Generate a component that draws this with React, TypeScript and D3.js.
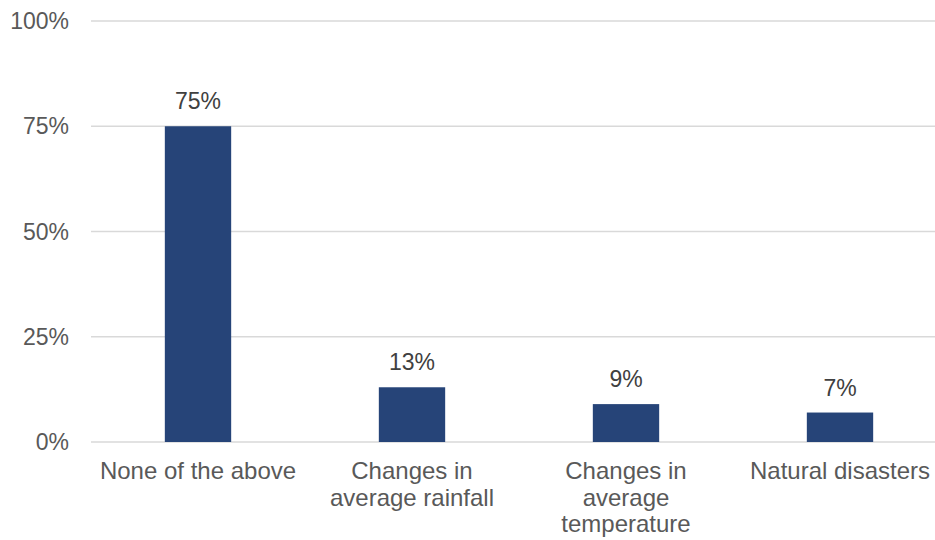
import React, { useEffect, useRef } from "react";
import * as d3 from "d3";

const categories = [
  "None of the above",
  "Changes in average rainfall",
  "Changes in average temperature",
  "Natural disasters",
];
const values = [75, 13, 9, 7];
const yTicks = [0, 25, 50, 75, 100];

const W = 935;
const H = 540;
const FONT = "Liberation Sans, Arial, sans-serif";

export default function App() {
  const ref = useRef<SVGSVGElement>(null);

  useEffect(() => {
    const svg = d3.select(ref.current);
    svg.selectAll("*").remove();

    const x = d3
      .scaleBand<string>()
      .domain(categories)
      .range([91, 947])
      .paddingInner(0.69)
      .paddingOuter(0.345);
    const y = d3.scaleLinear().domain([0, 100]).range([442, 21]);

    // gridlines
    svg
      .append("g")
      .selectAll("line")
      .data(yTicks)
      .join("line")
      .attr("x1", 91)
      .attr("x2", 947)
      .attr("y1", (d) => y(d))
      .attr("y2", (d) => y(d))
      .attr("stroke", "#d9d9d9")
      .attr("stroke-width", 1.5);

    // y tick labels
    svg
      .append("g")
      .selectAll("text")
      .data(yTicks)
      .join("text")
      .attr("x", 69)
      .attr("y", (d) => y(d))
      .attr("dy", "0.35em")
      .attr("text-anchor", "end")
      .attr("font-family", FONT)
      .attr("font-size", 23)
      .attr("fill", "#595959")
      .text((d) => `${d}%`);

    // bars
    svg
      .append("g")
      .selectAll("rect")
      .data(values)
      .join("rect")
      .attr("x", (_, i) => x(categories[i])!)
      .attr("width", x.bandwidth())
      .attr("y", (d) => y(d))
      .attr("height", (d) => y(0) - y(d))
      .attr("fill", "#264478");

    // value labels
    svg
      .append("g")
      .selectAll("text")
      .data(values)
      .join("text")
      .attr("x", (_, i) => x(categories[i])! + x.bandwidth() / 2)
      .attr("y", (d) => y(d) - 17)
      .attr("text-anchor", "middle")
      .attr("font-family", FONT)
      .attr("font-size", 23)
      .attr("fill", "#404040")
      .text((d) => `${d}%`);

    // category labels, word-wrapped to the band step
    const maxW = 200;
    const g = svg.append("g");
    categories.forEach((c) => {
      const cx = x(c)! + x.bandwidth() / 2;
      const t = g
        .append("text")
        .attr("x", cx)
        .attr("y", 479)
        .attr("text-anchor", "middle")
        .attr("font-family", FONT)
        .attr("font-size", 24)
        .attr("fill", "#595959");
      const words = c.split(" ");
      let line: string[] = [];
      let tspan = t.append("tspan").attr("x", cx).attr("dy", 0);
      words.forEach((w) => {
        line.push(w);
        tspan.text(line.join(" "));
        if ((tspan.node() as SVGTextContentElement).getComputedTextLength() > maxW && line.length > 1) {
          line.pop();
          tspan.text(line.join(" "));
          line = [w];
          tspan = t.append("tspan").attr("x", cx).attr("dy", 26.5).text(w);
        }
      });
    });
  }, []);

  return (
    <svg
      ref={ref}
      width={W}
      height={H}
      style={{ position: "absolute", left: 0, top: 0, background: "#fff" }}
    />
  );
}
